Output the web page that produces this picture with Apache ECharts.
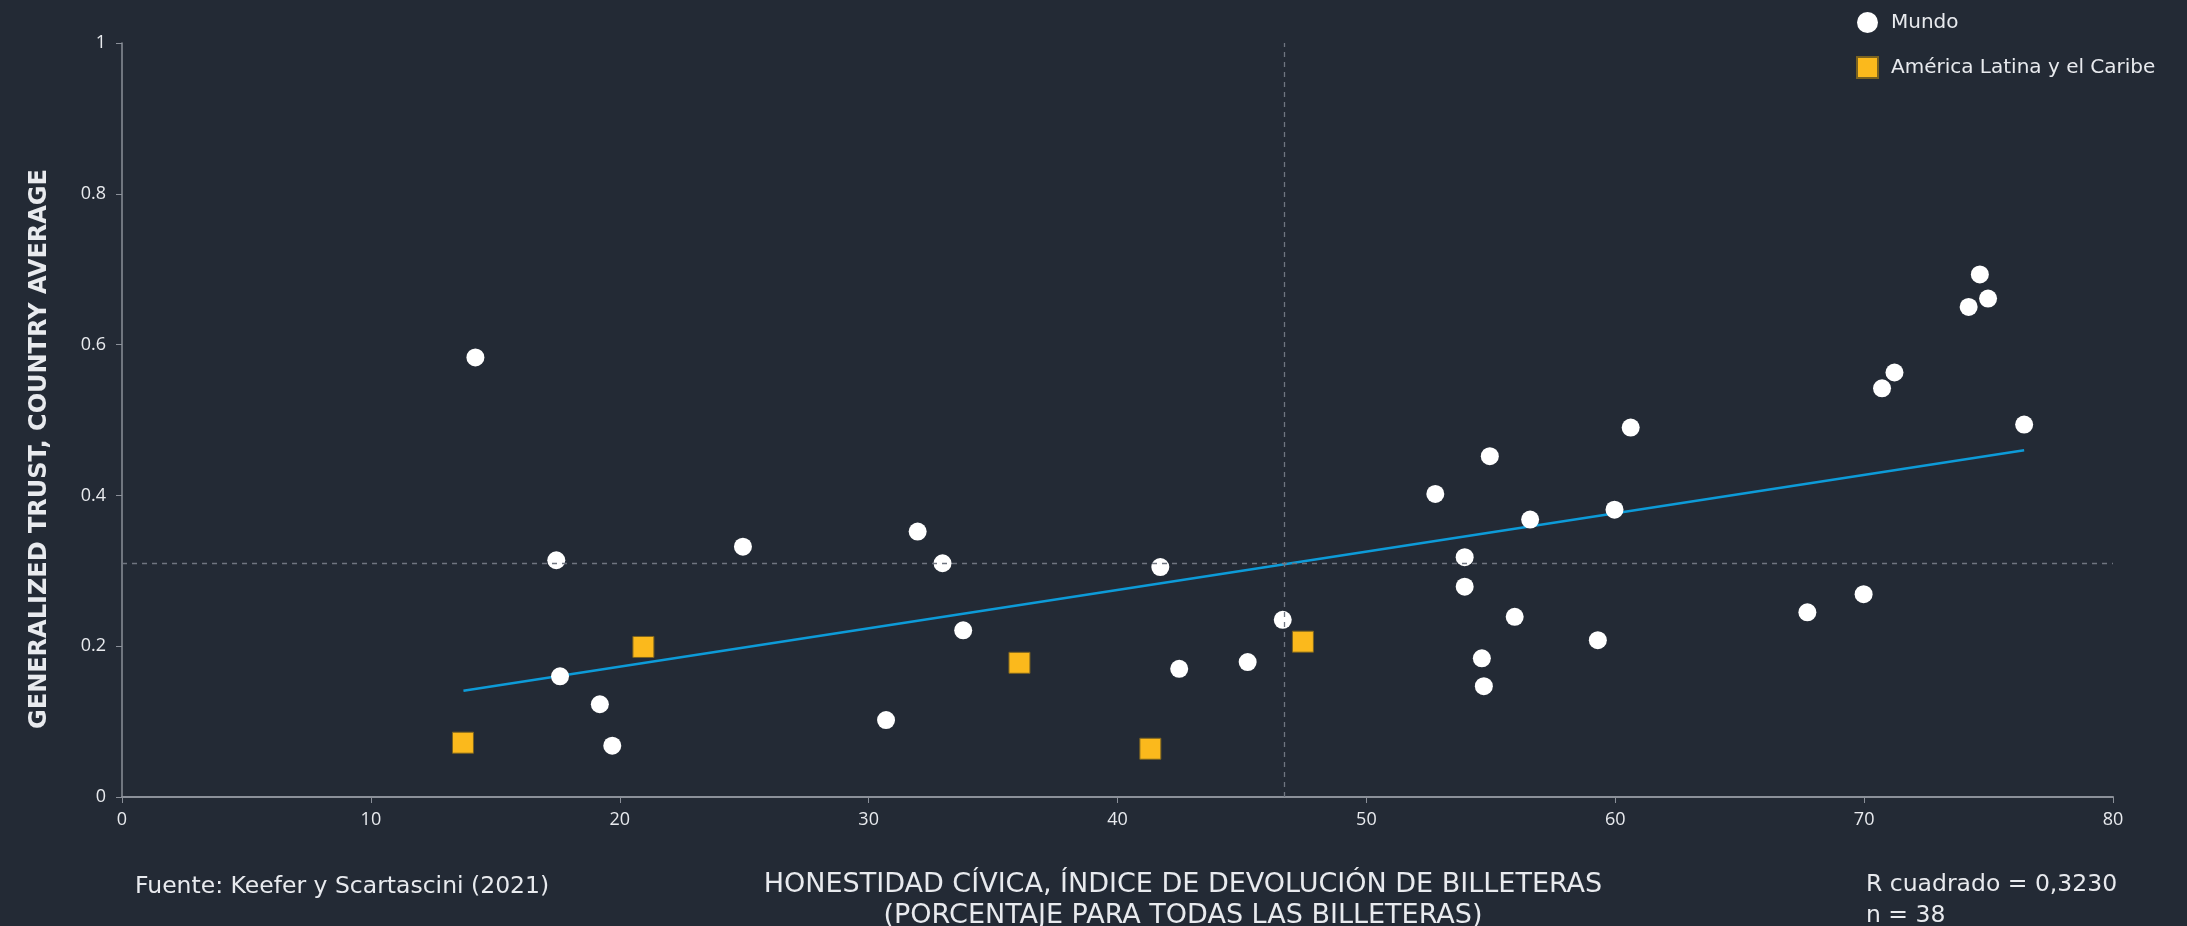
<!DOCTYPE html>
<html><head><meta charset="utf-8">
<script src="https://cdn.jsdelivr.net/npm/echarts@6/dist/echarts.min.js"></script>
<style>html,body{margin:0;padding:0;background:#232a35;}#c{width:2187px;height:926px;}</style>
</head><body><div id="c"></div>
<script>
// Data
const mundoX = [14.2, 17.45, 17.6, 19.2, 19.7, 24.95, 30.7, 31.97, 32.97, 33.8, 41.72, 42.48, 45.23, 46.64, 52.77, 53.95, 53.95, 54.64, 54.72, 54.96, 55.96, 56.58, 59.3, 59.97, 60.62, 67.72, 69.98, 70.72, 71.22, 74.2, 74.65, 74.98, 76.43];
const mundoY = [0.583, 0.314, 0.160, 0.123, 0.068, 0.332, 0.102, 0.352, 0.310, 0.221, 0.305, 0.170, 0.179, 0.235, 0.402, 0.318, 0.279, 0.184, 0.147, 0.452, 0.239, 0.368, 0.208, 0.381, 0.490, 0.245, 0.269, 0.542, 0.563, 0.650, 0.693, 0.661, 0.494];
const alcX = [13.7, 20.95, 36.06, 41.32, 47.45];
const alcY = [0.072, 0.199, 0.178, 0.064, 0.206];
const trendX = [13.72, 76.43];
const trendY = [0.141, 0.460];
const meanX = 46.7;
const meanY = 0.309;
const xTicks = [0, 10, 20, 30, 40, 50, 60, 70, 80];
const yTickLabels = {0: '0', 0.2: '0.2', 0.4: '0.4', 0.6: '0.6', 0.8: '0.8', 1: '1'};
const seriesNames = ['Mundo', 'América Latina y el Caribe'];
const xTitle = 'HONESTIDAD CÍVICA, ÍNDICE DE DEVOLUCIÓN DE BILLETERAS\n(PORCENTAJE PARA TODAS LAS BILLETERAS)';
const yTitle = 'GENERALIZED TRUST, COUNTRY AVERAGE';
const sourceText = 'Fuente: Keefer y Scartascini (2021)';
const statsText = 'R cuadrado = 0,3230\nn = 38';

const FONT = '"DejaVu Sans", sans-serif';
const TICKFONT = '"Open Sans", sans-serif';
const TXT = '#e8eaee';
const AX = '#8b9099';

const chart = echarts.init(document.getElementById('c'), null, {renderer: 'canvas'});
const pairs = (xs, ys) => xs.map((x, i) => [x, ys[i]]);

chart.setOption({
  backgroundColor: '#232a35',
  animation: false,
  grid: {left: 122, right: 74, top: 43, bottom: 129, containLabel: false},
  legend: {
    orient: 'vertical', left: 1851, top: 7, itemWidth: 21, itemHeight: 21, itemGap: 23,
    textStyle: {color: TXT, fontFamily: FONT, fontSize: 20, padding: [0, 0, 0, 8]},
    data: [{name: seriesNames[0], icon: 'circle'}, {name: seriesNames[1], icon: 'rect'}]
  },
  xAxis: {
    type: 'value', min: 0, max: 80, interval: 10,
    axisLine: {show: true, lineStyle: {color: AX, width: 2}},
    axisTick: {show: true, length: 6, lineStyle: {color: AX}},
    axisLabel: {color: TXT, fontFamily: TICKFONT, fontSize: 18, margin: 14,
      formatter: v => xTicks.includes(v) ? String(v) : ''},
    splitLine: {show: false}
  },
  yAxis: {
    type: 'value', min: 0, max: 1, interval: 0.2,
    axisLine: {show: true, lineStyle: {color: AX, width: 1.5}},
    axisTick: {show: true, length: 6, lineStyle: {color: AX}},
    axisLabel: {color: TXT, fontFamily: TICKFONT, fontSize: 18, margin: 16,
      formatter: v => yTickLabels[Math.round(v * 10) / 10] ?? ''},
    splitLine: {show: false}
  },
  graphic: [
    {type: 'text', x: 40, y: 449, rotation: Math.PI / 2, style: {text: yTitle, fill: TXT, font: 'bold 24px ' + FONT, textAlign: 'center', textVerticalAlign: 'middle'}},
    {type: 'text', x: 135, y: 887, style: {text: sourceText, fill: TXT, font: '23.5px ' + FONT, textVerticalAlign: 'middle'}},
    {type: 'text', x: 1183, y: 900, style: {text: xTitle, fill: TXT, font: '27px ' + FONT, textAlign: 'center', textVerticalAlign: 'middle', lineHeight: 31}},
    {type: 'text', x: 1866, y: 900, style: {text: statsText, fill: TXT, font: '23.5px ' + FONT, textVerticalAlign: 'middle', lineHeight: 31}}
  ],
  series: [
    {
      name: 'ref', type: 'line', data: [], silent: true,
      markLine: {
        silent: true, symbol: 'none', label: {show: false},
        lineStyle: {color: '#6f7580', type: [5, 5], width: 1.3},
        data: [{xAxis: meanX}, {yAxis: meanY}]
      }
    },
    {
      name: 'trend', type: 'line', data: pairs(trendX, trendY), symbol: 'none', silent: true,
      lineStyle: {color: '#0d9bd8', width: 2.5}, z: 3
    },
    {
      name: seriesNames[0], type: 'scatter', data: pairs(mundoX, mundoY), symbol: 'circle', symbolSize: 18,
      itemStyle: {color: '#ffffff', opacity: 1}, z: 4
    },
    {
      name: seriesNames[1], type: 'scatter', data: pairs(alcX, alcY), symbol: 'rect', symbolSize: 21,
      itemStyle: {color: '#fbb91c', borderColor: '#7a6220', borderWidth: 1, opacity: 1}, z: 4
    }
  ]
});
</script></body></html>
